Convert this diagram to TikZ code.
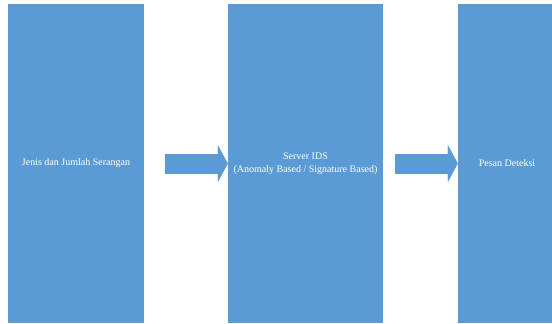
\documentclass[tikz,border=0pt]{standalone}
\usepackage{fontspec}
\setmainfont{Liberation Serif}
\usetikzlibrary{arrows.meta}
\definecolor{idsblue}{RGB}{91,155,213}

\begin{document}
\begin{tikzpicture}[
    blok/.style={
    fill=idsblue,
    text=white,
    minimum width=#1,
    minimum height=319pt,
    inner sep=0pt,
    align=center,
    font=\fontsize{10}{13}\selectfont
    },
    panah/.style={
    draw=idsblue,
    line width=20pt,
    -{Triangle[length=10pt,width=37pt,line width=0.01pt]}
    }
]
\useasboundingbox (0,0) rectangle (552pt,-324pt);
\clip (0,0) rectangle (552pt,-324pt);

%Draw the blocks
\node[blok=136pt] (jenis) at (76pt,-163.5pt) {Jenis dan Jumlah Serangan};
\node[blok=155pt] (server) at (305.5pt,-163.5pt) {Server IDS\\(Anomaly Based / Signature Based)};
\node[blok=98pt] (pesan) at (507pt,-163.5pt) {Pesan Deteksi};
%Draw the arrows
\draw[panah] ([xshift=21pt]jenis.east) -- (server.west);
\draw[panah] ([xshift=12pt]server.east) -- (pesan.west);

\end{tikzpicture}
\end{document}
